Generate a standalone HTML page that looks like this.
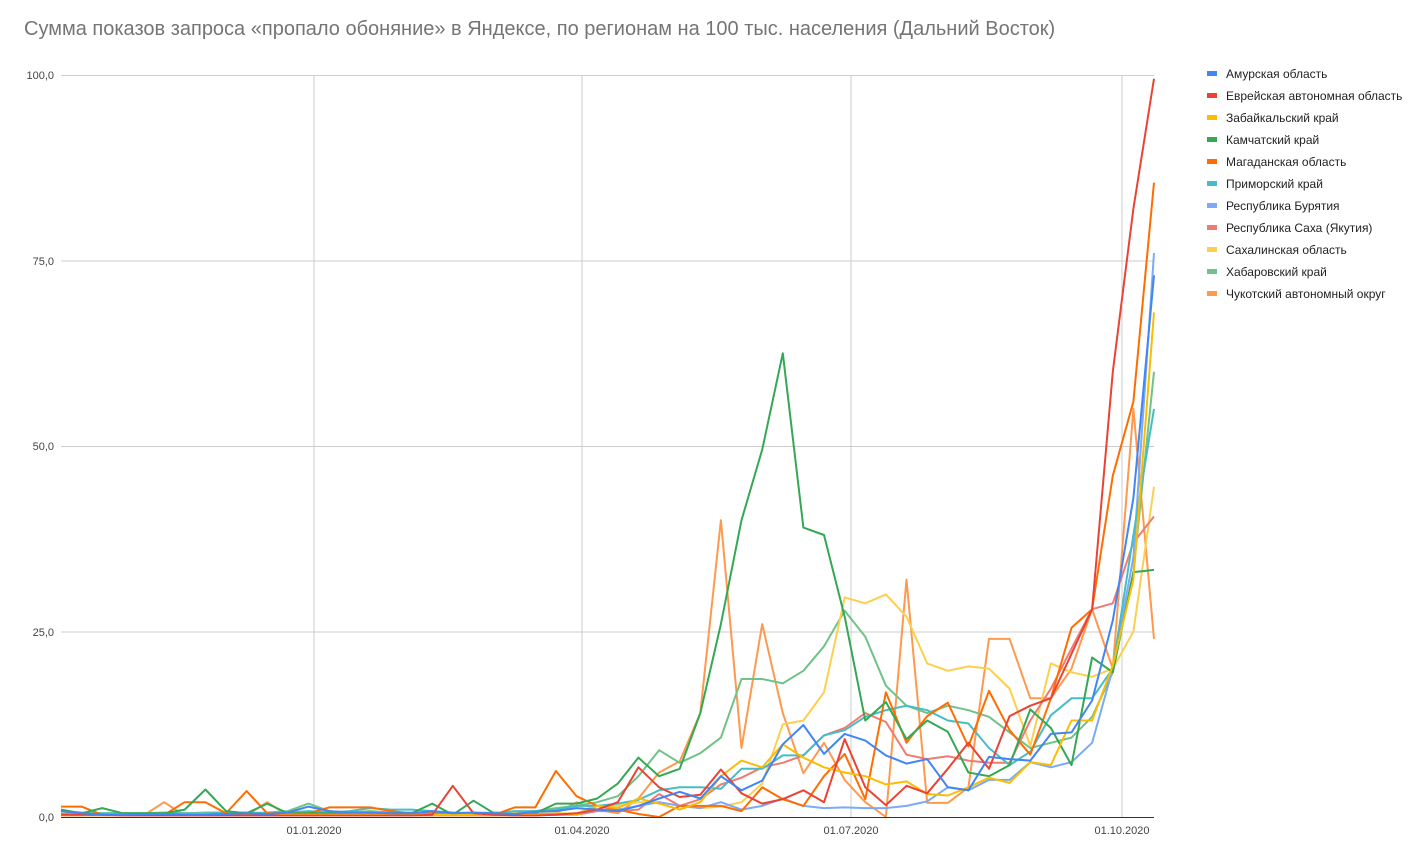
<!DOCTYPE html>
<html><head><meta charset="utf-8"><style>
body{margin:0;background:#fff;width:1425px;height:856px;overflow:hidden;font-family:"Liberation Sans",Arial,sans-serif}
</style></head><body>
<svg id="s" width="1425" height="856" xmlns="http://www.w3.org/2000/svg" font-family="Liberation Sans, Arial, sans-serif">
<rect width="1425" height="856" fill="#fff"/>
<text x="24" y="35" font-size="20" fill="#757575">Сумма показов запроса «пропало обоняние» в Яндексе, по регионам на 100 тыс. населения (Дальний Восток)</text>
<g stroke="#cccccc" stroke-width="1">
<line x1="61" y1="75.5" x2="1154" y2="75.5"/>
<line x1="61" y1="261" x2="1154" y2="261"/>
<line x1="61" y1="446.5" x2="1154" y2="446.5"/>
<line x1="61" y1="632" x2="1154" y2="632"/>
<line x1="314" y1="75" x2="314" y2="817"/>
<line x1="582" y1="75" x2="582" y2="817"/>
<line x1="851" y1="75" x2="851" y2="817"/>
<line x1="1122" y1="75" x2="1122" y2="817"/>
</g>
<g font-size="11" fill="#444" text-anchor="end">
<text x="54" y="79">100,0</text><text x="54" y="265">75,0</text><text x="54" y="450">50,0</text><text x="54" y="636">25,0</text><text x="54" y="821">0,0</text>
</g>
<g font-size="11" fill="#444" text-anchor="middle">
<text x="314" y="834">01.01.2020</text><text x="582" y="834">01.04.2020</text><text x="851" y="834">01.07.2020</text><text x="1122" y="834">01.10.2020</text>
</g>
<g id="lines" fill="none" stroke-width="2" stroke-linejoin="round"></g>
<line x1="61" y1="817.5" x2="1154" y2="817.5" stroke="#333" stroke-width="1"/>
<g id="leg" font-size="12" fill="#222"></g>
</svg>
<script>
function e(a,b){return a.concat(b);}
var early=function(v){var r=[];for(var i=0;i<26;i++)r.push(v);return r;};
var S=[
["Амурская область","#4285f4",e([0.8,0.5,0.3,0.3,0.4,0.4,0.3,0.3,0.4,0.5,0.4,0.6,1.4,0.8,0.6,0.6,0.5,0.5,0.8,0.5,0.6,0.5,0.4,0.7,0.8,1.2],[1.0,0.8,1.5,2.5,3.4,2.5,5.5,3.6,4.9,9.8,12.4,8.5,11.2,10.3,8.3,7.2,7.8,4,3.6,8.1,7.8,7.6,11.2,11.4,15.7,26.5,43,73])],
["Еврейская автономная область","#ea4335",e([0.3,0.3,0.3,0.2,0.2,0.2,0.2,0.2,0.2,0.2,0.2,0.2,0.2,0.2,0.2,0.2,0.2,0.2,0.3,4.2,0.5,0.3,0.2,0.2,0.3,0.5],[1.0,2.0,6.7,4,2.7,3,6.4,3.2,1.8,2.4,3.6,2,10.5,4,1.6,4.2,3.2,6.5,10,6.5,13.6,15,16,22,28,60,82,99.5])],
["Забайкальский край","#fbbc04",e(early(0.3),[1.5,1.2,2.5,1.8,1,2,5.5,7.6,6.7,9.8,8,6.7,6,5.5,4.4,4.8,3.1,2.9,4,5.3,4.6,7.4,7,13,13,20.4,32,68])],
["Камчатский край","#34a853",e([1,0.5,1.2,0.5,0.5,0.5,1,3.7,0.8,0.5,1.8,0.5,0.5,0.5,0.5,0.5,0.5,0.5,1.8,0.3,2.2,0.5,0.3,0.5,1.8,1.8],[2.5,4.5,8,5.5,6.5,14,26,40,49.5,62.5,39,38,27,13,15.5,10.5,13,11.5,6,5.5,7,14.5,12,7,21.5,19.5,33,33.3])],
["Магаданская область","#ff6d01",e([1.4,1.4,0.3,0.3,0.3,0.3,2,2,0.5,3.5,0.5,0.5,0.5,1.3,1.3,1.3,0.8,0.5,0.5,0.3,0.3,0.3,1.3,1.3,6.2,2.8],[1.5,1,0.4,0,1.5,1.5,1.5,0.8,4,2.4,1.5,5.5,8.5,2.4,16.8,10,13.6,15.4,9.5,17,11.7,8.4,16,25.5,28,46,56,85.5])],
["Приморский край","#46bdc6",e([0.8,0.5,0.5,0.5,0.5,0.5,0.5,0.5,0.6,0.6,0.5,0.6,0.8,0.6,0.8,1.2,1.0,1.0,0.8,0.6,0.5,0.5,0.8,0.8,1.0,1.5],[1.5,1.8,2.3,3.6,4,4,3.8,6.5,6.5,8.3,8.3,11,11.7,13.5,14.4,15,14.4,13,12.6,9.3,7,8.8,13.7,16,16,20,38,55])],
["Республика Бурятия","#7baaf7",e(early(0.4),[1,1,1.5,2,1.5,1.2,2,1,1.5,2.5,1.5,1.2,1.3,1.2,1.2,1.5,2.1,4,3.6,5,5,7.4,6.7,7.4,10,20,35,76])],
["Республика Саха (Якутия)","#f07b72",e(early(0.3),[0.8,0.8,1,3.1,1.5,2.4,4.4,5.3,6.7,7.3,8.3,11,12,14,12.8,8.4,7.8,8.2,7.6,7.3,7.3,13,17.3,22.7,28,28.8,37,40.5])],
["Сахалинская область","#fcd04f",e(early(0.5),[1.5,1.5,2,2,1.5,1.2,1.4,2,4.5,12.5,13,16.8,29.6,28.8,30,27,20.7,19.7,20.3,20,17.3,9.6,20.7,19.5,18.9,20,25,44.5])],
["Хабаровский край","#71c287",e([0.8,0.6,0.5,0.5,0.5,0.6,0.5,0.6,0.6,0.5,0.6,0.8,1.8,0.8,0.6,0.8,0.6,0.6,0.6,0.5,0.5,0.6,0.6,0.8,1.2,1.5],[2,2.8,5.5,9,7.3,8.6,10.7,18.6,18.6,18,19.7,23,27.8,24.3,17.7,15,14,15,14.4,13.5,11.4,9.3,10,10.7,13.5,19.5,33,60])],
["Чукотский автономный округ","#ff994d",e([0.2,0.2,0.2,0.2,0.2,2,0.2,0.2,0.2,0.2,2,0.2,0.2,0.2,0.2,0.2,0.2,0.2,0.2,0.2,0.2,0.2,0.2,0.2,0.5,2],[1,0.5,2.5,6,7.5,14,40,9.3,26,14,5.9,10,5,2,0,32,1.9,1.9,4,24,24,16,16,20,28,20,55,24])]
];
var NS="http://www.w3.org/2000/svg",g=document.getElementById("lines"),lg=document.getElementById("leg");
for(var k=S.length-1;k>=0;k--){var d=S[k][2],p=[];for(var i=0;i<d.length;i++){p.push((61+i*1093/53).toFixed(1)+","+(817-d[i]*7.42).toFixed(1));}
var pl=document.createElementNS(NS,"polyline");pl.setAttribute("points",p.join(" "));pl.setAttribute("stroke",S[k][1]);g.appendChild(pl);}
for(var k=0;k<S.length;k++){var y=74+22*k;var r=document.createElementNS(NS,"rect");r.setAttribute("x",1207);r.setAttribute("y",y-3);r.setAttribute("width",10);r.setAttribute("height",5);r.setAttribute("fill",S[k][1]);lg.appendChild(r);
var t=document.createElementNS(NS,"text");t.setAttribute("x",1226);t.setAttribute("y",y+4);t.textContent=S[k][0];lg.appendChild(t);}
</script>
</body></html>
